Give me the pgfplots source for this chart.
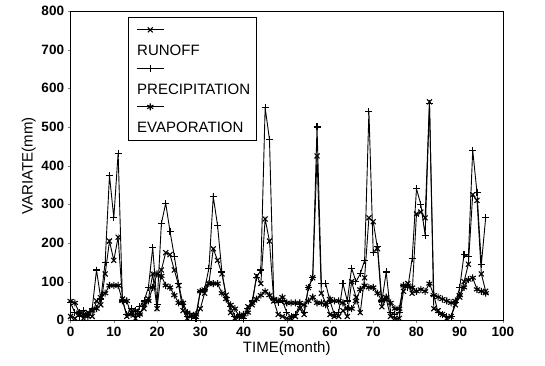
\documentclass[border=0pt]{standalone}
\usepackage{fontspec}
\setmainfont{Liberation Sans}
\usepackage{pgfplots}
\pgfplotsset{compat=1.18}
\pgfplotstableread{
m P R E
0 45 10 50
1 20 5 45
2 10 15 20
3 25 5 15
4 15 20 10
5 30 10 25
6 130 50 30
7 55 40 60
8 150 120 70
9 375 205 90
10 265 155 90
11 432 215 90
12 50 55 50
13 15 10 50
14 30 20 15
15 10 5 25
16 35 20 15
17 50 30 40
18 85 55 50
19 188 120 85
20 40 30 120
21 250 130 115
22 303 175 90
23 230 170 85
24 165 130 65
25 95 90 45
26 40 25 45
27 10 5 20
28 10 15 10
29 5 10 15
30 75 30 75
31 80 70 80
32 135 95 95
33 320 185 95
34 245 155 95
35 125 120 70
36 60 65 55
37 35 20 40
38 10 5 30
39 15 10 10
40 5 10 15
41 30 35 20
42 50 40 45
43 110 115 55
44 130 95 65
45 550 262 75
46 468 205 65
47 55 50 55
48 45 15 50
49 50 10 60
50 20 5 45
51 10 5 45
52 15 10 45
53 40 30 45
54 20 15 40
55 85 85 50
56 110 110 60
57 500 425 45
58 95 70 45
59 95 45 40
60 50 15 55
61 15 10 50
62 20 10 50
63 95 25 45
64 50 10 30
65 135 100 30
66 100 60 50
67 120 20 80
68 155 110 90
69 540 265 85
70 175 255 85
71 190 185 70
72 50 35 50
73 125 55 60
74 20 10 45
75 15 5 30
76 20 5 30
77 90 75 90
78 85 95 90
79 160 70 85
80 340 275 75
81 300 280 80
82 220 265 75
83 560 565 95
84 65 30 65
85 20 25 60
86 15 15 55
87 10 5 50
88 10 10 45
89 45 40 50
90 85 60 65
91 170 100 85
92 165 145 105
93 440 325 110
94 330 310 80
95 145 120 75
96 265 75 70
}\datatable
\begin{document}
\begin{tikzpicture}
\begin{axis}[
  name=ax,
  scale only axis,
  width=432bp, height=309bp,
  xmin=0, xmax=100, ymin=0, ymax=800,
  xtick={0,10,...,100}, ytick={0,100,...,800},
  tick pos=left, tick align=outside,
  major tick length=3bp,
  axis line style={line width=0.6bp},
  /pgf/number format/assume math mode=true,
  font=\fontsize{15bp}{17bp}\selectfont,
  tick label style={font=\bfseries\fontsize{13.5bp}{16bp}\selectfont},
  xlabel={TIME(month)}, ylabel={VARIATE(mm)},
  xlabel style={yshift=2bp},
  ylabel style={yshift=-1bp},
  legend style={at={(0.133,0.982)}, anchor=north west, draw=black,
    line width=0.5bp, inner sep=4bp, column sep=2bp, row sep=0pt,
    cells={anchor=base west}, font=\fontsize{15bp}{17bp}\selectfont},
  legend image code/.code={%
    \begin{pgfinterruptboundingbox}
    \draw[mark repeat=2,mark phase=2,#1] plot coordinates {(4bp,26bp) (17.5bp,26bp) (31bp,26bp)};
    \end{pgfinterruptboundingbox}
    \path (0bp,0bp);},
]
\addplot[black, line width=0.9bp, mark=x, mark size=3.5bp, mark options={solid, line width=1.1bp}] table[x=m,y=R]{\datatable};
\addlegendentry{\rule[-6bp]{0pt}{39bp}RUNOFF}
\addplot[black, line width=0.9bp, mark=+, mark size=3.5bp, mark options={solid, line width=1.1bp}] table[x=m,y=P]{\datatable};
\addlegendentry{\rule[-6bp]{0pt}{39bp}PRECIPITATION}
\addplot[black, line width=0.9bp, mark=asterisk, mark size=3.5bp, mark options={solid, line width=1.1bp}] table[x=m,y=E]{\datatable};
\addlegendentry{\rule[-6bp]{0pt}{39bp}EVAPORATION}
\end{axis}
\path ([xshift=-70.5bp,yshift=-45bp]ax.south west) rectangle ([xshift=42bp,yshift=11bp]ax.north east);
\end{tikzpicture}
\end{document}
